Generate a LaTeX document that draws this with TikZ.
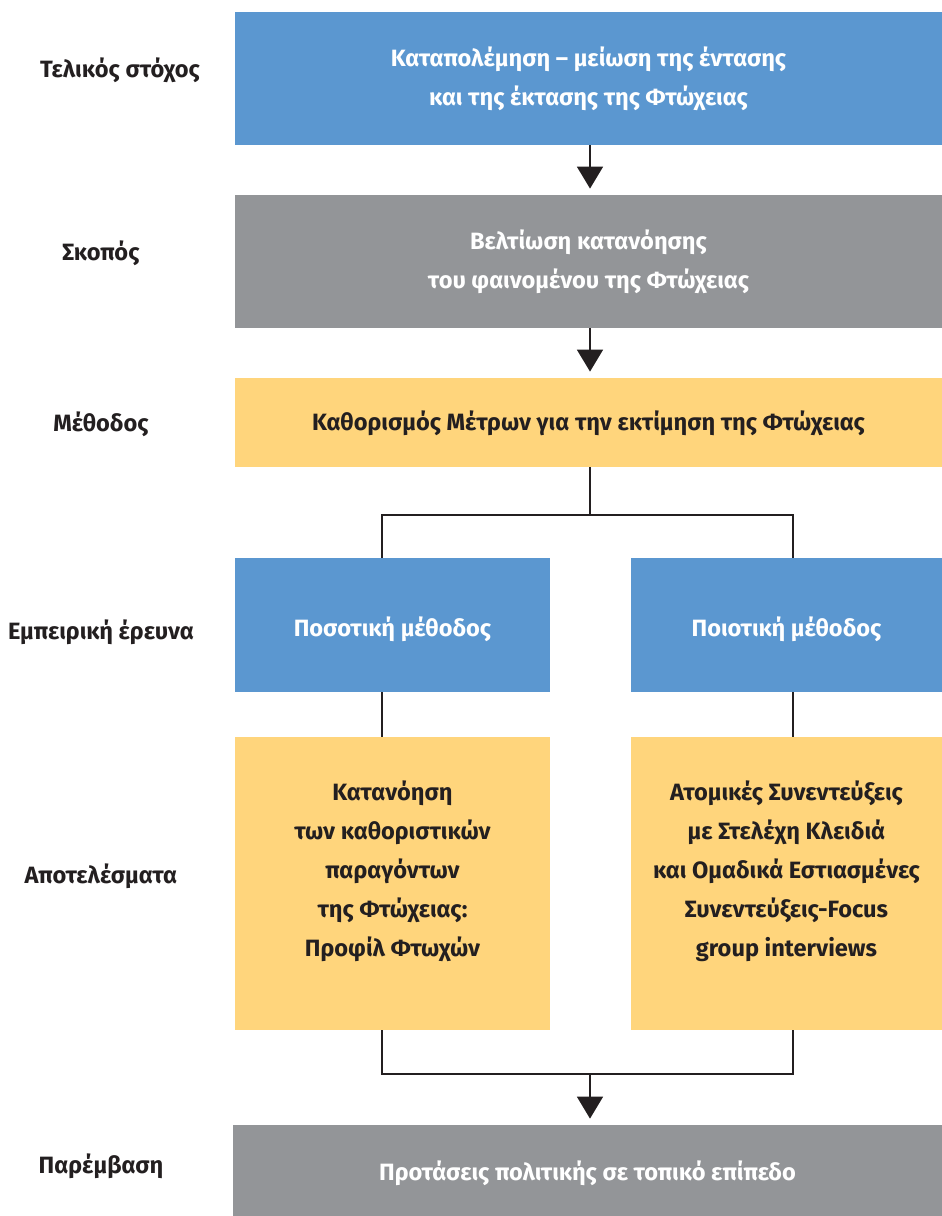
\documentclass[tikz,border=0pt]{standalone}
\usepackage{fontspec}
\setmainfont{Fira Sans}
\usetikzlibrary{arrows.meta}

\definecolor{boxBlue}{HTML}{5B97D0}
\definecolor{boxGray}{HTML}{939598}
\definecolor{boxYellow}{HTML}{FFD57C}
\definecolor{inkDark}{HTML}{231F20}

\def \lineWidth {0.8pt}

\tikzset{
  box/.style={rectangle, inner sep=0pt, align=center, font=\bfseries\fontsize{11.8}{19.5}\selectfont},
  bluebox/.style={box, fill=boxBlue, text=white},
  graybox/.style={box, fill=boxGray, text=white},
  yellowbox/.style={box, fill=boxYellow, text=inkDark},
  rowlabel/.style={text=inkDark, font=\bfseries\fontsize{11.8}{12}\selectfont},
  link/.style={draw=inkDark, line width=\lineWidth},
  arrowlink/.style={link, -{Triangle[width=13pt,length=11pt]}, shorten >=3pt}
}

\begin{document}
\begin{tikzpicture}[x=1pt,y=1pt]
         \useasboundingbox (0,0) rectangle (471,-608);

         % boxes
         \node[bluebox, minimum width=353.5pt, minimum height=66.5pt] (goal) at (294.25,-39.25)
            {Καταπολέμηση – μείωση της έντασης\\και της έκτασης της Φτώχειας};
         \node[graybox, minimum width=353.5pt, minimum height=66.5pt] (aim) at (294.25,-130.75)
            {Βελτίωση κατανόησης\\του φαινομένου της Φτώχειας};
         \node[yellowbox, minimum width=353.5pt, minimum height=44.5pt, text height=11pt] (method) at (294.25,-211.25)
            {Καθορισμός Μέτρων για την εκτίμηση της Φτώχειας};
         \node[bluebox, minimum width=157.5pt, minimum height=67pt, text height=14pt] (quant) at (196.25,-312.5)
            {Ποσοτική μέθοδος};
         \node[bluebox, minimum width=155.5pt, minimum height=67pt, text height=14pt] (qual) at (393.25,-312.5)
            {Ποιοτική μέθοδος};
         \node[yellowbox, minimum width=157.5pt, minimum height=146.5pt, text depth=15pt] (resL) at (196.25,-441.75)
            {Κατανόηση\\των καθοριστικών\\παραγόντων\\της Φτώχειας:\\Προφίλ Φτωχών};
         \node[yellowbox, minimum width=155.5pt, minimum height=146.5pt, text depth=15pt] (resR) at (393.25,-441.75)
            {Ατομικές Συνεντεύξεις\\με Στελέχη Κλειδιά\\και Ομαδικά Εστιασμένες\\Συνεντεύξεις-Focus\\group interviews};
         \node[graybox, minimum width=354.5pt, minimum height=45.5pt, text height=13pt] (policy) at (293.75,-585.25)
            {Προτάσεις πολιτικής σε τοπικό επίπεδο};

         % row labels
         \node[rowlabel] (lblGoal) at (60,-35) {Τελικός στόχος};
         \node[rowlabel] (lblAim) at (50.5,-126.5) {Σκοπός};
         \node[rowlabel] (lblMethod) at (50.5,-212) {Μέθοδος};
         \node[rowlabel] (lblSurvey) at (50.5,-316) {Εμπειρική έρευνα};
         \node[rowlabel] (lblResults) at (50.5,-438) {Αποτελέσματα};
         \node[rowlabel] (lblPolicy) at (50.5,-583) {Παρέμβαση};

         % connectors
         \coordinate (splitL) at (191,-257.5);
         \coordinate (splitR) at (396.5,-257.5);
         \coordinate (joinL) at (191,-537);
         \coordinate (joinR) at (396.5,-537);
         \coordinate (joinM) at (295,-537);

         \draw[arrowlink] (goal.south -| joinM) -- (aim.north -| joinM);
         \draw[arrowlink] (aim.south -| joinM) -- (method.north -| joinM);
         \draw[link] (method.south -| joinM) -- (splitL -| joinM);
         \draw[link] (splitL |- quant.north) -- (splitL) -- (splitR) -- (splitR |- qual.north);
         \draw[link] (splitL |- quant.south) -- (splitL |- resL.north);
         \draw[link] (splitR |- qual.south) -- (splitR |- resR.north);
         \draw[link] (joinL |- resL.south) -- (joinL) -- (joinR) -- (joinR |- resR.south);
         \draw[arrowlink] (joinM) -- (policy.north -| joinM);
      \end{tikzpicture}
\end{document}
